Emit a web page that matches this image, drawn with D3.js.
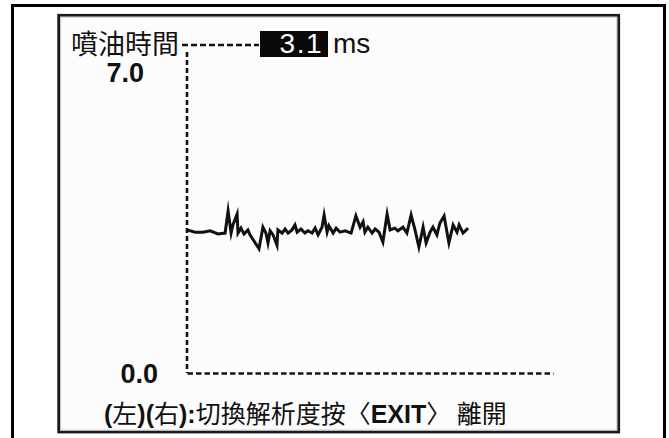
<!DOCTYPE html>
<html>
<head>
<meta charset="utf-8">
<script src="https://cdn.jsdelivr.net/npm/d3@7"></script>
<style>
  html, body { margin: 0; padding: 0; background: #ffffff; }
  svg { display: block; }
</style>
</head>
<body>
<svg id="chart" width="669" height="438"></svg>
<script>
// ---- data ----
const seriesLabel = "噴油時間";
const currentValue = 3.1;
const unitLabel = "ms";
const yTickValues = [0, 7];
const yTickLabels = ["0.0", "7.0"];
const tData = [0, 2.7, 5.3, 7.7, 10.3, 12.7, 13.7, 14.7, 15.3, 16.7, 17, 18, 19, 20.3, 21, 24, 25, 25.3, 26.3, 27,
  27.7, 28.7, 30, 30.3, 31.7, 32.7, 33.7, 35, 36, 36.7, 38, 39.3, 40.3, 41.7, 42.7, 43.7, 45, 45.7, 46.7, 47.3,
  48.7, 49.7, 51, 52.7, 54.7, 56.3, 57.7, 58.7, 59.3, 60.3, 61.7, 62.7, 64, 65.3, 66.7, 67.7, 69.3, 70.3, 72, 73.3,
  74.7, 76, 77.3, 78.7, 79.7, 81, 82, 83.3, 84.3, 85.7, 86.7, 87.3, 88.7, 90, 90.7, 92, 93.7];
const vData = [3.18, 3.13, 3.13, 3.16, 3.09, 3.11, 3.60, 3.11, 3.29, 3.53, 3.11, 3.22, 3.09, 3.18, 3.07, 2.76, 3.13, 3.24, 3.11, 2.89,
  3.16, 3.07, 2.84, 3.18, 3.11, 3.20, 3.11, 3.18, 3.29, 3.13, 3.20, 3.11, 3.16, 3.11, 3.22, 3.07, 3.24, 3.51, 3.13, 3.27,
  3.11, 3.22, 3.13, 3.16, 3.11, 3.49, 3.24, 3.36, 3.13, 3.24, 3.11, 3.20, 3.13, 2.91, 3.53, 3.18, 3.22, 3.16, 3.24, 3.11,
  3.51, 3.18, 2.80, 3.24, 2.89, 3.13, 3.24, 3.07, 3.33, 3.49, 3.11, 2.89, 3.29, 3.13, 3.29, 3.11, 3.22];
const footerParts = [
  {t: "(", latin: true}, {t: "左"}, {t: ")", latin: true},
  {t: "(", latin: true}, {t: "右"}, {t: ")", latin: true},
  {t: ":", latin: true}, {t: "切換解析度按〈"}, {t: "EXIT", latin: true}, {t: "〉 離開"}
];

// ---- drawing ----
const svg = d3.select("#chart");
const CJK = "'Noto Sans CJK TC', 'Noto Sans CJK SC', sans-serif";
const LAT = "'Liberation Sans', Arial, sans-serif";

// outer frame (no bottom edge visible)
svg.append("path")
  .attr("d", "M12.5,438 L12.5,5.5 L664.5,5.5 L664.5,438")
  .attr("fill", "none").attr("stroke", "#000").attr("stroke-width", 3);

// inner panel
svg.append("rect")
  .attr("x", 58.7).attr("y", 15.3).attr("width", 560).attr("height", 416.7)
  .attr("fill", "#fcfcfc").attr("stroke", "#1a1a1a").attr("stroke-width", 2.8);
svg.append("rect")
  .attr("x", 60.6).attr("y", 17.2).attr("width", 556.2).attr("height", 412.9)
  .attr("fill", "none").attr("stroke", "#c8c8c8").attr("stroke-width", 1);

// scales
const x = d3.scaleLinear().domain([0, 122]).range([187, 553]);
const y = d3.scaleLinear().domain([0, 7]).range([373, 58]);

// axes (dashed domain lines, no tick marks)
const xAxis = d3.axisBottom(x).tickValues([]).tickSizeOuter(0);
const gx = svg.append("g").attr("transform", `translate(0,${y(0)})`).call(xAxis);
gx.select(".domain").attr("stroke", "#111").attr("stroke-width", 2.4).attr("stroke-dasharray", "5.5,3");

const yAxis = d3.axisLeft(y).tickValues(yTickValues).tickSize(0).tickSizeOuter(0).tickFormat((d, i) => yTickLabels[i]);
const gy = svg.append("g").attr("transform", `translate(${x(0)},0)`).call(yAxis);
gy.select(".domain").attr("d", `M0,${y(7) - 6}V${y(0)}`)
  .attr("stroke", "#111").attr("stroke-width", 2.6).attr("stroke-dasharray", "5,3");
gy.selectAll(".tick text")
  .attr("font-family", LAT).attr("font-weight", "bold").attr("font-size", 27)
  .attr("fill", "#111").attr("text-anchor", "end")
  .attr("dy", null)
  .attr("x", d => d === 0 ? -29 : -43)
  .attr("y", d => d === 0 ? 9 : 23)
  .attr("dominant-baseline", "auto");

// header: label, leader line, value box, unit
svg.append("text")
  .attr("x", 71).attr("y", 54)
  .attr("font-family", CJK).attr("font-size", 27).attr("fill", "#111")
  .text(seriesLabel);
svg.append("line")
  .attr("x1", 182).attr("x2", 259).attr("y1", 45).attr("y2", 45)
  .attr("stroke", "#111").attr("stroke-width", 2.4).attr("stroke-dasharray", "6,3");
svg.append("rect")
  .attr("x", 260).attr("y", 31).attr("width", 68).attr("height", 26)
  .attr("fill", "#0a0a0a");
svg.append("text")
  .attr("x", 323).attr("y", 53).attr("text-anchor", "end")
  .attr("font-family", LAT).attr("font-size", 28).attr("fill", "#fff")
  .attr("letter-spacing", 1.5)
  .text(currentValue.toFixed(1));
svg.append("text")
  .attr("x", 333).attr("y", 53)
  .attr("font-family", LAT).attr("font-size", 28).attr("fill", "#111")
  .text(unitLabel);

// series line
const line = d3.line().x((d, i) => x(tData[i])).y(d => y(d));
svg.append("path")
  .datum(vData)
  .attr("d", line)
  .attr("fill", "none").attr("stroke", "#111").attr("stroke-width", 3)
  .attr("stroke-linejoin", "miter").attr("stroke-miterlimit", 8);

// footer
const foot = svg.append("text").attr("x", 104).attr("y", 423).attr("font-size", 25).attr("fill", "#111");
footerParts.forEach(p => {
  foot.append("tspan")
    .attr("font-family", p.latin ? LAT : CJK)
    .attr("font-weight", p.latin ? "bold" : "normal")
    .text(p.t);
});
</script>
</body>
</html>
